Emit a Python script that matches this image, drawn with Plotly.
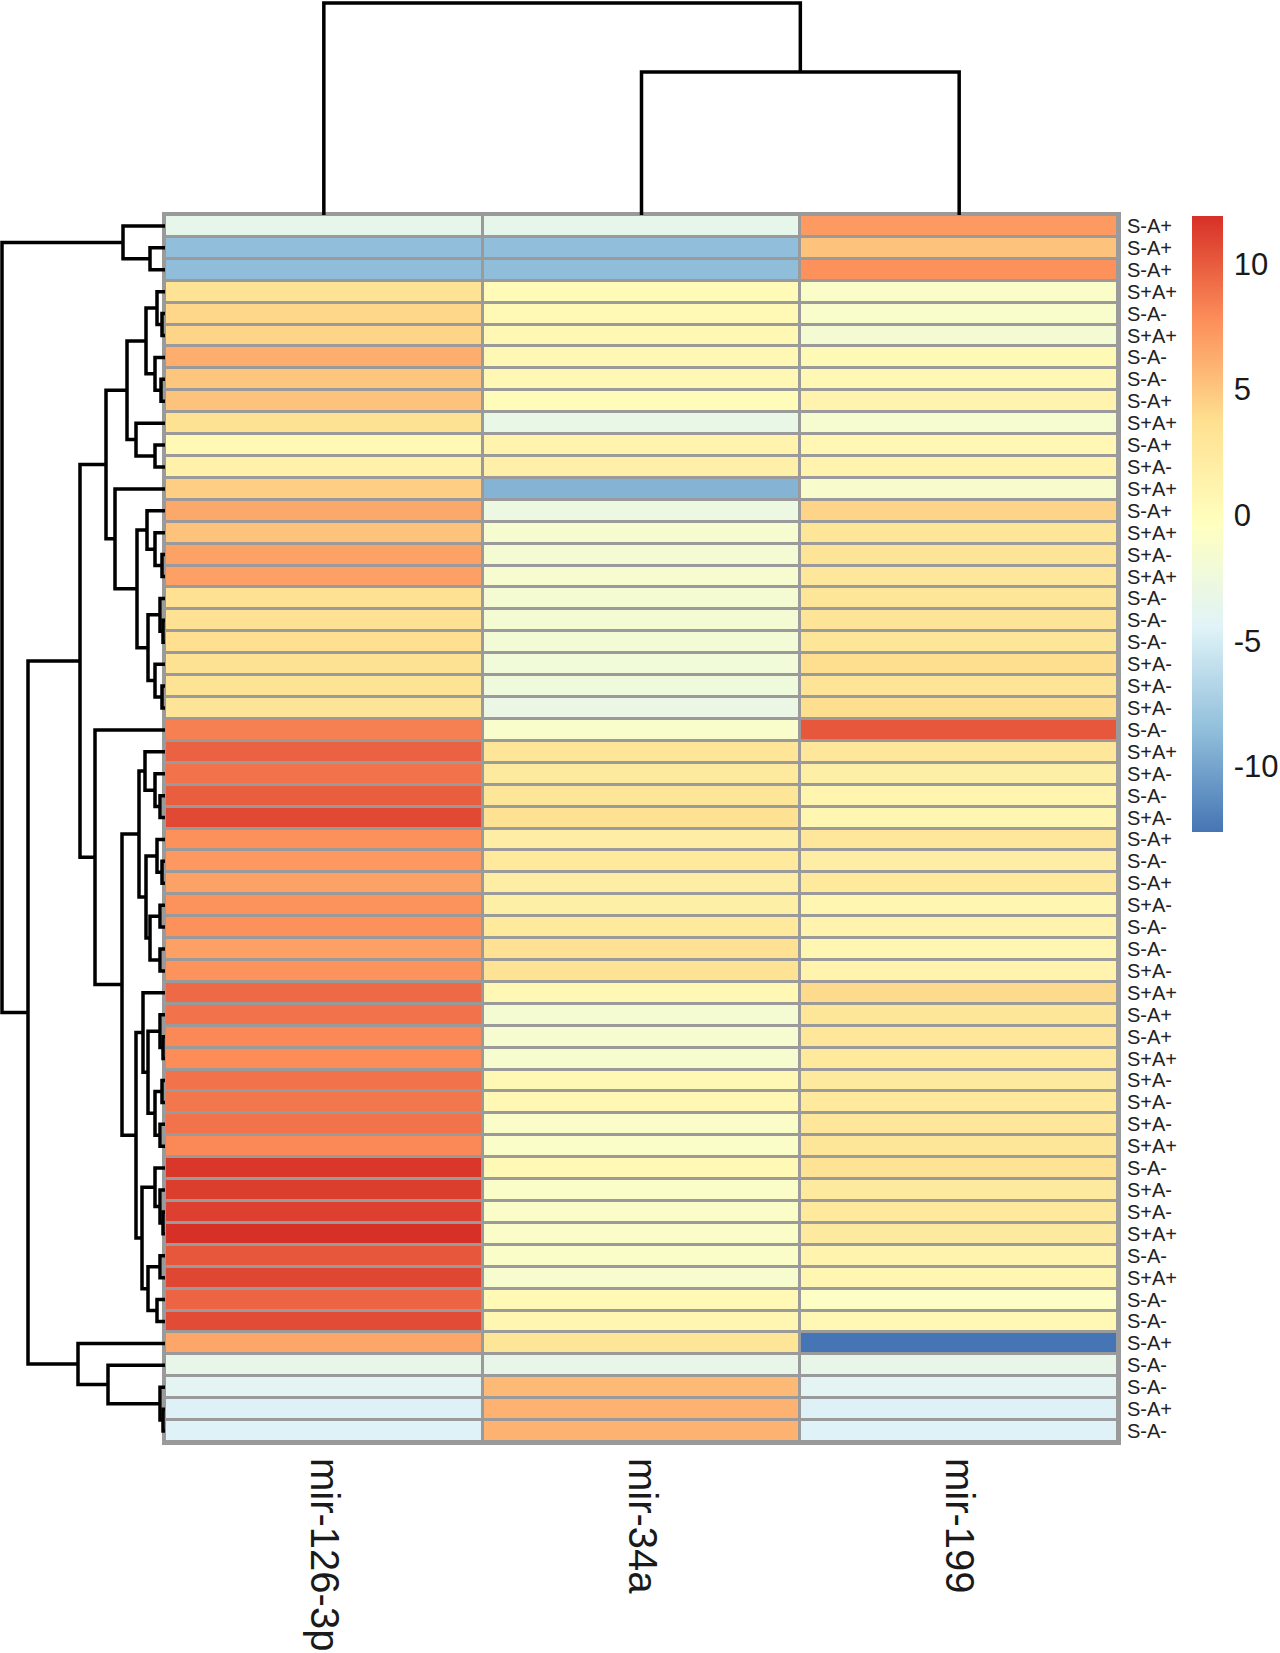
import plotly.graph_objects as go

# column order as drawn (left -> right)
mirnas = ["mir-126-3p", "mir-34a", "mir-199"]

# row labels, top -> bottom, in dendrogram leaf order
samples = [
    "S-A+", "S-A+", "S-A+", "S+A+", "S-A-", "S+A+", "S-A-", "S-A-", "S-A+", "S+A+",
    "S-A+", "S+A-", "S+A+", "S-A+", "S+A+", "S+A-", "S+A+", "S-A-", "S-A-", "S-A-",
    "S+A-", "S+A-", "S+A-", "S-A-", "S+A+", "S+A-", "S-A-", "S+A-", "S-A+", "S-A-",
    "S-A+", "S+A-", "S-A-", "S-A-", "S+A-", "S+A+", "S-A+", "S-A+", "S+A+", "S+A-",
    "S+A-", "S+A-", "S+A+", "S-A-", "S+A-", "S+A-", "S+A+", "S-A-", "S+A+", "S-A-",
    "S-A-", "S-A+", "S-A-", "S-A-", "S-A+", "S-A-",
]

# values
mir126 = [
    -3.5, -8.5, -8.6, 3.3, 4.2, 4.3, 6.2, 5.0, 5.2, 3.5,
    0.5, 1.5, 4.6, 6.5, 5.2, 6.8, 6.9, 3.6, 3.6, 3.7,
    3.5, 3.4, 3.2, 8.4, 9.7, 9.0, 9.9, 10.8, 7.6, 7.3,
    6.8, 7.5, 7.6, 6.9, 7.5, 9.4, 9.0, 8.0, 7.8, 9.0,
    8.8, 9.0, 8.0, 11.6, 11.3, 11.2, 11.9, 10.2, 10.9, 9.6,
    10.7, 6.6, -3.4, -4.0, -4.6, -4.5,
]
mir34a = [
    -3.5, -8.5, -8.6, 0.3, 0.5, 0.6, 0.6, 0.6, 0.2, -3.2,
    1.2, 1.6, -9.2, -2.8, -1.5, -1.8, -1.5, -1.8, -1.8, -2.0,
    -2.2, -2.4, -3.0, -1.2, 3.1, 2.4, 3.0, 3.6, 2.0, 2.6,
    2.0, 1.8, 2.6, 3.6, 3.4, 0.6, -1.8, -1.6, -1.4, 0.6,
    0.6, -1.0, -1.0, 0.5, -1.0, -1.0, -1.0, -1.0, -1.4, 0.5,
    0.8, 3.0, -3.4, 5.6, 6.0, 6.0,
]
mir199 = [
    7.2, 5.2, 7.6, -1.0, -1.2, -1.8, 0.4, 0.6, 1.2, -1.5,
    0.7, 1.2, -1.3, 4.3, 3.0, 3.2, 2.8, 3.0, 3.2, 3.0,
    3.8, 3.2, 3.8, 10.2, 2.8, 1.8, 1.0, 0.8, 2.8, 2.0,
    2.6, 0.8, 1.2, 0.8, 1.2, 4.0, 3.0, 2.8, 2.6, 2.4,
    2.6, 2.8, 3.0, 3.4, 2.4, 2.6, 2.4, 1.2, 0.8, -0.8,
    0.6, -12.6, -3.4, -4.0, -4.6, -4.5,
]

# colour key ticks
cbar_ticks = [10, 5, 0, -5, -10]
cbar_text = ["10", "5", "0", "-5", "-10"]

# row dendrogram, [left, right, height]; leaves are row indices
top_grp = [0, [1, 2, 15], 42]
grp_a = [[3, [4, 5, 3], 8], [6, [7, 8, 4], 10], 19]
grp_b = [9, [10, 11, 10], 29]
grp_c = [[13, [14, [15, 16, 3], 10], 18],
         [[17, [18, 19, 2], 5], [20, [21, 22, 3], 10], 17], 28]
upper = [[grp_a, grp_b, 38], [12, grp_c, 50], 59]
red_a = [[24, [25, [26, 27, 5], 10], 20],
         [[28, [29, 30, 3], 8], [[31, 32, 5], [33, 34, 5], 15], 19], 26]
red_b = [35, [[36, [37, 38, 2], 5], [[39, 40, 3], [41, 42, 5], 10], 17], 22]
red_c = [[43, [44, [45, 46, 2], 5], 10], [[47, 48, 5], [49, 50, 8], 17], 23]
lower = [23, [red_a, [red_b, red_c, 29], 43], 70]
bottom_grp = [51, [52, [53, [54, 55, 2], 5], 57], 87]
row_tree = [top_grp, [[upper, lower, 85], bottom_grp, 137], 163]

# column dendrogram
col_tree = [0, [1, 2, 143], 212]

W, H = 1280, 1653
HM_X0, HM_X1 = 165, 1118
HM_Y0, HM_Y1 = 215, 1442
GRID = "#9A9A9A"


def walk(node):
    """returns (leaf position, height, list of U-shaped segments)"""
    if isinstance(node, int):
        return float(node), 0.0, []
    left, right, h = node
    lp, lh, ls = walk(left)
    rp, rh, rs = walk(right)
    seg = [(lh, lp), (h, lp), (h, rp), (rh, rp)]
    return (lp + rp) / 2, h, ls + rs + [seg]


def seg_xy(segs, flip=False):
    xs, ys = [], []
    for seg in segs:
        for hgt, pos in seg:
            if flip:
                xs.append(pos)
                ys.append(hgt)
            else:
                xs.append(hgt)
                ys.append(pos)
        xs.append(None)
        ys.append(None)
    return xs, ys


z = [[a, b, c] for a, b, c in zip(mir126, mir34a, mir199)]
zmin = min(min(r) for r in z)
zmax = max(max(r) for r in z)
n_rows = len(samples)

colorscale = [
    [0.0, "#4575B4"], [1 / 6, "#91BFDB"], [2 / 6, "#E0F3F8"], [3 / 6, "#FFFFBF"],
    [4 / 6, "#FEE090"], [5 / 6, "#FC8D59"], [1.0, "#D73027"],
]

fig = go.Figure()
fig.add_trace(
    go.Heatmap(
        z=z,
        x=list(range(len(mirnas))),
        y=list(range(n_rows)),
        colorscale=colorscale,
        zmin=zmin,
        zmax=zmax,
        xgap=3,
        ygap=3,
        colorbar=dict(
            x=1192 / W,
            xanchor="left",
            y=1 - 216 / H,
            yanchor="top",
            lenmode="pixels",
            len=616,
            thicknessmode="pixels",
            thickness=31,
            xpad=0,
            ypad=0,
            outlinewidth=0,
            tickvals=cbar_ticks,
            ticktext=cbar_text,
            ticks="outside",
            ticklen=5,
            tickcolor="rgba(0,0,0,0)",
            tickfont=dict(family="Liberation Sans, Arial", size=31, color="#1a1a1a"),
        ),
        hovertemplate="%{y}<br>%{x}: %{z}<extra></extra>",
    )
)

_, _, rsegs = walk(row_tree)
rx, ry = seg_xy(rsegs)
fig.add_trace(
    go.Scatter(x=rx, y=ry, mode="lines", xaxis="x2", yaxis="y2",
               line=dict(color="black", width=3.5), hoverinfo="skip",
               showlegend=False, cliponaxis=False)
)

_, _, csegs = walk(col_tree)
cx, cy = seg_xy(csegs, flip=True)
fig.add_trace(
    go.Scatter(x=cx, y=cy, mode="lines", xaxis="x3", yaxis="y3",
               line=dict(color="black", width=3.5), hoverinfo="skip",
               showlegend=False, cliponaxis=False)
)

# grey cell borders show through the heatmap gaps
fig.add_shape(type="rect", xref="x", yref="y", x0=-0.5, x1=len(mirnas) - 0.5,
              y0=-0.5, y1=n_rows - 0.5, fillcolor=GRID, line=dict(width=0), layer="below")

hm_xdom = [HM_X0 / W, HM_X1 / W]
hm_ydom = [1 - HM_Y1 / H, 1 - HM_Y0 / H]

fig.update_layout(
    width=W,
    height=H,
    margin=dict(l=0, r=0, t=0, b=0),
    paper_bgcolor="white",
    plot_bgcolor="white",
    showlegend=False,
    xaxis=dict(
        domain=hm_xdom, range=[-0.5, len(mirnas) - 0.5],
        tickvals=list(range(len(mirnas))), ticktext=mirnas, tickangle=90,
        ticks="", ticklabelstandoff=5, showgrid=False, zeroline=False,
        showline=True, mirror=True, linecolor=GRID, linewidth=3,
        tickfont=dict(family="Liberation Sans, Arial", size=40, color="#1a1a1a"),
    ),
    yaxis=dict(
        domain=hm_ydom, range=[n_rows - 0.5, -0.5], side="right",
        tickvals=list(range(n_rows)), ticktext=samples, ticks="",
        ticklabelstandoff=2, showgrid=False, zeroline=False,
        showline=True, mirror=True, linecolor=GRID, linewidth=3,
        tickfont=dict(family="Liberation Sans, Arial", size=20, color="#222222"),
    ),
    xaxis2=dict(domain=[0, HM_X0 / W], range=[HM_X0, 0], visible=False),
    yaxis2=dict(domain=hm_ydom, range=[n_rows - 0.5, -0.5], visible=False),
    xaxis3=dict(domain=hm_xdom, range=[-0.5, len(mirnas) - 0.5], visible=False),
    yaxis3=dict(domain=[1 - HM_Y0 / H, 1], range=[0, HM_Y0], visible=False),
)

# drop the default page margin so the figure sits at the window's corner
fig.write_html(
    "out.html",
    config={"displayModeBar": False},
    post_script="document.body.style.margin='0px';document.body.style.overflow='hidden';",
)
